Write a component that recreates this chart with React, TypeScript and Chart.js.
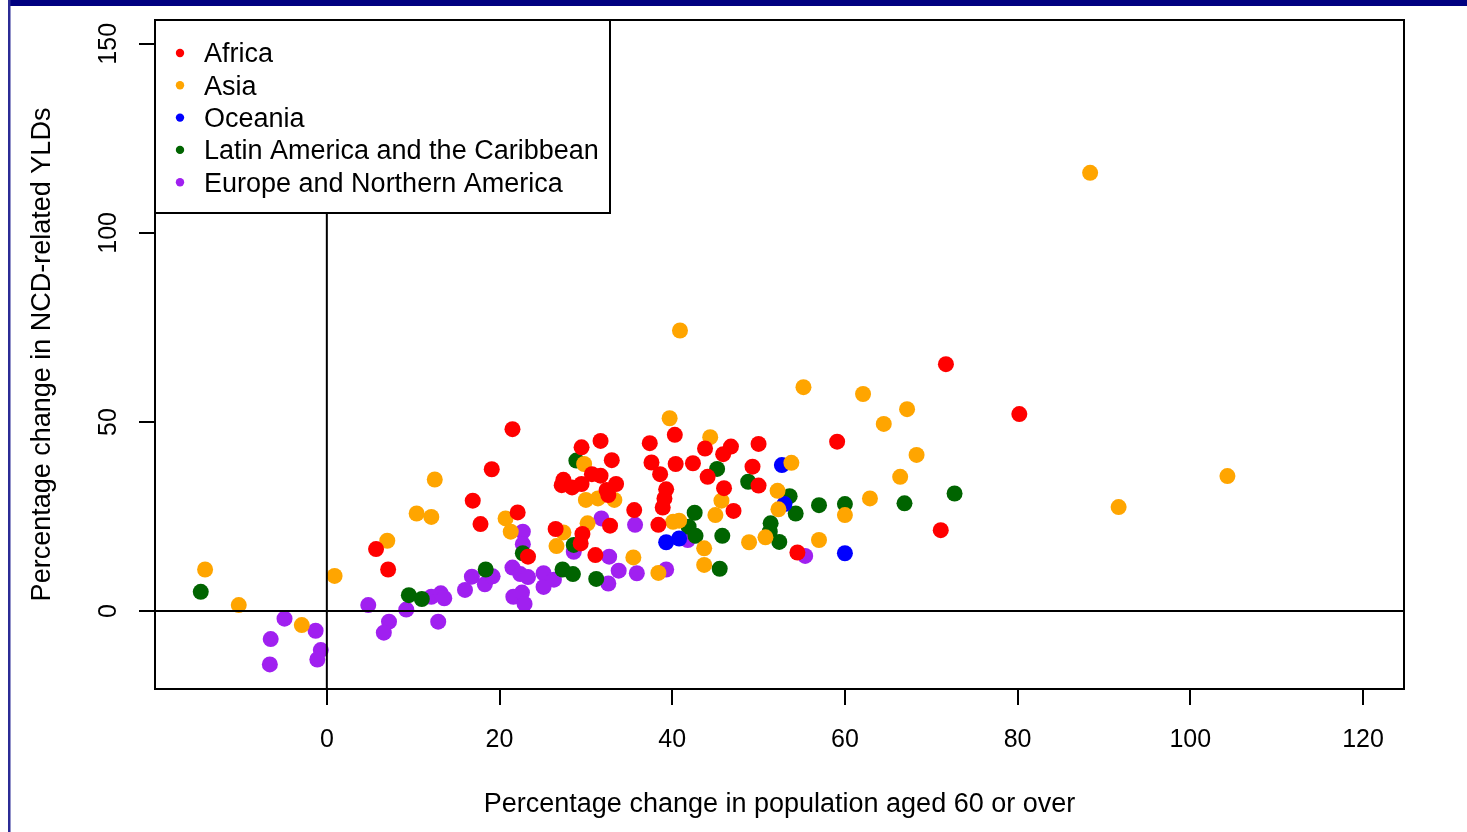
import React, { useEffect, useRef } from 'react';
import { Chart, registerables } from 'chart.js';

Chart.register(...registerables);

const FONT = '"Liberation Sans", Arial, Helvetica, sans-serif';

const regionNames = [
  'Africa',
  'Asia',
  'Oceania',
  'Latin America and the Caribbean',
  'Europe and Northern America',
];
const regionColors = ['#FF0000', '#FFA500', '#0000FF', '#006400', '#A020F0'];

const africa: [number, number][] = [
  [5.7, 16.4], [7.1, 11.0], [16.9, 29.2], [17.8, 23.0], [19.1, 37.5], [21.5, 48.1],
  [22.1, 26.1], [23.3, 14.4], [26.5, 21.7], [29.4, 17.9], [29.6, 20.4], [31.1, 14.8],
  [32.8, 22.6], [35.6, 26.7], [38.4, 22.8], [32.6, 30.7], [32.4, 32.0], [33.5, 33.6],
  [27.4, 34.7], [27.2, 33.3], [28.4, 32.7], [29.5, 33.6], [30.7, 36.2], [31.7, 35.8],
  [29.5, 43.3], [31.7, 45.0], [33.0, 39.9], [37.4, 44.4], [40.3, 46.6], [37.6, 39.3],
  [38.6, 36.2], [40.4, 38.9], [39.3, 32.2], [39.1, 29.8], [38.9, 27.4], [42.4, 39.1],
  [43.8, 43.0], [45.9, 41.5], [46.8, 43.5], [44.1, 35.5], [46.0, 32.5], [47.1, 26.5],
  [54.5, 15.5], [50.0, 44.2], [49.3, 38.2], [50.0, 33.2], [59.1, 44.8], [71.7, 65.3],
  [71.1, 21.4], [80.2, 52.1],
];

const asia: [number, number][] = [
  [-14.1, 11.0], [-10.2, 1.6], [-2.9, -3.7], [0.9, 9.3], [7.0, 18.6], [10.4, 25.8],
  [12.1, 24.9], [12.5, 34.8], [20.7, 24.5], [21.3, 21.0], [27.4, 20.8], [26.6, 17.2],
  [35.5, 14.2], [38.4, 10.1], [30.2, 23.2], [30.0, 29.4], [31.4, 29.8], [33.3, 29.4],
  [29.8, 38.9], [39.7, 51.0], [40.1, 23.6], [40.8, 23.9], [44.4, 46.0], [45.7, 29.2],
  [45.0, 25.4], [43.7, 16.6], [43.7, 12.2], [48.9, 18.2], [50.8, 19.5], [52.3, 26.9],
  [52.2, 31.8], [60.0, 25.4], [57.0, 18.8], [53.8, 39.2], [55.2, 59.2], [40.9, 74.2],
  [62.1, 57.4], [67.2, 53.4], [64.5, 49.5], [68.3, 41.3], [66.4, 35.5], [62.9, 29.8],
  [88.4, 115.9], [104.3, 35.7], [91.7, 27.5],
];

const oceania: [number, number][] = [
  [39.3, 18.2], [40.8, 19.2], [53.0, 28.3], [60.0, 15.3], [52.7, 38.6],
];

const latinAmerica: [number, number][] = [
  [-14.6, 5.1], [9.5, 4.2], [11.0, 3.2], [18.4, 11.0], [22.7, 15.3], [28.6, 17.5],
  [27.3, 11.0], [28.5, 9.8], [31.2, 8.5], [28.9, 39.8], [42.6, 26.0], [41.9, 22.3],
  [42.7, 19.9], [45.5, 11.2], [45.8, 19.9], [52.4, 18.3], [51.4, 23.2], [51.3, 21.0],
  [53.6, 30.4], [54.3, 25.8], [57.0, 28.0], [60.0, 28.3], [45.2, 37.6], [48.8, 34.2],
  [66.9, 28.5], [72.7, 31.1],
];

const europeNA: [number, number][] = [
  [-4.9, -2.0], [-6.5, -7.4], [-6.6, -14.1], [-1.3, -5.2], [-0.7, -10.3], [-1.1, -12.8],
  [4.8, 1.6], [7.2, -2.8], [6.6, -5.7], [9.2, 0.4], [12.1, 3.8], [13.2, 4.7],
  [13.6, 3.4], [12.9, -2.8], [16.0, 5.6], [16.8, 9.1], [18.3, 7.1], [19.2, 9.2],
  [22.7, 21.0], [22.7, 17.7], [21.5, 11.5], [22.4, 9.8], [23.3, 9.0], [25.1, 10.0],
  [25.1, 6.4], [26.3, 8.3], [21.6, 3.8], [22.6, 4.9], [22.9, 1.9], [28.6, 15.7],
  [32.7, 14.4], [33.8, 10.7], [32.6, 7.3], [35.9, 10.0], [39.3, 11.0], [31.8, 24.5],
  [35.7, 22.8], [41.8, 18.8], [55.4, 14.6],
];

const regionData = [africa, asia, oceania, latinAmerica, europeNA];

const xTicks = [0, 20, 40, 60, 80, 100, 120];
const yTicks = [0, 50, 100, 150];
const xRange = [-19.9, 124.75];
const yRange = [-20.6, 156.3];
const xTitle = 'Percentage change in population aged 60 or over';
const yTitle = 'Percentage change in NCD-related YLDs';

const TICK_SIZE = 25;
const LABEL_SIZE = 27;

const decorPlugin = {
  id: 'decor',
  beforeDraw(chart: any) {
    const ctx = chart.ctx;
    ctx.save();
    ctx.fillStyle = '#ffffff';
    ctx.fillRect(0, 0, chart.width, chart.height);
    ctx.fillStyle = '#000080';
    ctx.fillRect(8, 0, chart.width - 8, 6);
    ctx.fillStyle = '#2b2b95';
    ctx.fillRect(8, 0, 2.5, chart.height);
    ctx.restore();
  },
  afterDatasetsDraw(chart: any) {
    const ctx = chart.ctx;
    const a = chart.chartArea;
    const xs = chart.scales.x;
    const ys = chart.scales.y;
    ctx.save();
    ctx.strokeStyle = '#000';
    ctx.lineWidth = 2;
    const x0 = xs.getPixelForValue(0);
    const y0 = ys.getPixelForValue(0);
    ctx.beginPath();
    ctx.moveTo(a.left, y0);
    ctx.lineTo(a.right, y0);
    ctx.moveTo(x0, a.top);
    ctx.lineTo(x0, a.bottom);
    ctx.stroke();
    ctx.strokeRect(a.left, a.top, a.right - a.left, a.bottom - a.top);

    // y tick labels (rotated, parallel to axis)
    ctx.fillStyle = '#000';
    ctx.font = `${TICK_SIZE}px ${FONT}`;
    ctx.textAlign = 'center';
    ctx.textBaseline = 'alphabetic';
    ys.ticks.forEach((t: any) => {
      const py = ys.getPixelForValue(t.value);
      ctx.save();
      ctx.translate(ys.right - 39.5, py);
      ctx.rotate(-Math.PI / 2);
      ctx.fillText(String(t.value), 0, 0);
      ctx.restore();
    });

    // legend
    const lx = a.left;
    const ly = a.top;
    const lw = 455;
    const lh = 193;
    ctx.fillStyle = '#fff';
    ctx.fillRect(lx, ly, lw, lh);
    ctx.strokeRect(lx, ly, lw, lh);
    ctx.font = `${LABEL_SIZE}px ${FONT}`;
    ctx.textAlign = 'left';
    ctx.textBaseline = 'middle';
    chart.data.datasets.forEach((ds: any, i: number) => {
      const ry = ly + 33 + i * 32.3;
      ctx.fillStyle = ds.backgroundColor;
      ctx.beginPath();
      ctx.arc(lx + 25, ry, 4.2, 0, Math.PI * 2);
      ctx.fill();
      ctx.fillStyle = '#000';
      ctx.fillText(ds.label, lx + 49, ry + 2);
    });
    ctx.restore();
  },
};

export default function App() {
  const canvasRef = useRef<HTMLCanvasElement | null>(null);

  useEffect(() => {
    if (!canvasRef.current) return;
    const datasets = regionNames.map((name, i) => ({
      label: name,
      data: regionData[i].map(([x, y]) => ({ x, y })),
      backgroundColor: regionColors[i],
      borderWidth: 0,
      pointRadius: 8,
      pointHoverRadius: 8,
    }));
    const chart = new Chart(canvasRef.current, {
      type: 'scatter',
      data: { datasets },
      options: {
        animation: false,
        responsive: false,
        events: [],
        layout: { padding: { left: 0, right: 63, top: 20, bottom: 0 } },
        plugins: { legend: { display: false }, tooltip: { enabled: false } },
        scales: {
          x: {
            type: 'linear',
            position: 'bottom',
            min: xRange[0],
            max: xRange[1],
            afterBuildTicks: (s: any) => {
              s.ticks = xTicks.map((v) => ({ value: v }));
            },
            afterFit: (s: any) => {
              s.height = 143;
            },
            grid: {
              display: true,
              drawOnChartArea: false,
              drawTicks: true,
              tickLength: 16,
              tickWidth: 2,
              tickColor: '#000',
              color: '#000',
              lineWidth: 2,
            },
            border: { display: true, color: '#000', width: 2 },
            ticks: {
              font: { family: FONT, size: TICK_SIZE },
              color: '#000',
              padding: 20,
              autoSkip: false,
              maxRotation: 0,
              minRotation: 0,
              callback: (v: any) => String(v),
            },
            title: {
              display: true,
              text: xTitle,
              font: { family: FONT, size: LABEL_SIZE },
              color: '#000',
              padding: { top: 0, bottom: 11 },
            },
          },
          y: {
            type: 'linear',
            position: 'left',
            min: yRange[0],
            max: yRange[1],
            afterBuildTicks: (s: any) => {
              s.ticks = yTicks.map((v) => ({ value: v }));
            },
            afterFit: (s: any) => {
              s.width = 155;
            },
            grid: {
              display: true,
              drawOnChartArea: false,
              drawTicks: true,
              tickLength: 16,
              tickWidth: 2,
              tickColor: '#000',
              color: '#000',
              lineWidth: 2,
            },
            border: { display: true, color: '#000', width: 2 },
            ticks: { display: false },
            title: {
              display: true,
              text: yTitle,
              font: { family: FONT, size: LABEL_SIZE },
              color: '#000',
              padding: { top: 26.8, bottom: 0 },
            },
          },
        },
      } as any,
      plugins: [decorPlugin],
    });
    return () => chart.destroy();
  }, []);

  return (
    <div style={{ position: 'absolute', left: 0, top: 0, width: 1467, height: 832 }}>
      <canvas ref={canvasRef} width={1467} height={832} style={{ display: 'block' }} />
    </div>
  );
}
